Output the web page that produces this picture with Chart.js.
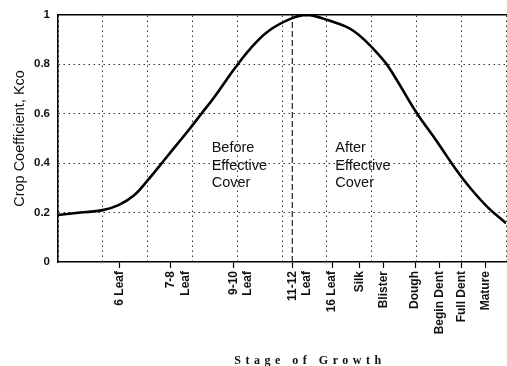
<!DOCTYPE html>
<html>
<head>
<meta charset="utf-8">
<script src="https://cdn.jsdelivr.net/npm/chart.js@4.4.1/dist/chart.umd.min.js"></script>
<style>
  html, body { margin: 0; padding: 0; background: #fff; }
  #wrap { width: 507px; height: 366px; }
</style>
</head>
<body>
<div id="wrap"><canvas id="kcoChart"></canvas></div>
<script>
// curve, x in grid units (0..10)
const curveX = [0, 0.5, 1.0, 1.35, 1.7, 2.0, 2.45, 2.9, 3.2, 3.5, 3.95, 4.3, 4.7, 5.2, 5.55, 6.0, 6.6, 7.25, 7.5, 8.0, 8.45, 8.9, 9.2, 9.6, 10];
const curveY = [0.19, 0.2, 0.21, 0.23, 0.27, 0.33, 0.43, 0.53, 0.6, 0.67, 0.785, 0.865, 0.935, 0.985, 1.0, 0.98, 0.935, 0.82, 0.755, 0.605, 0.49, 0.37, 0.3, 0.22, 0.157];

const stagePos = [1.38, 2.52, 3.92, 5.23, 6.12, 6.73, 7.26, 7.97, 8.51, 9.0, 9.55];
const stageLabels = [
  '6 Leaf', ['7-8', 'Leaf'], ['9-10', 'Leaf'], ['11-12', 'Leaf'], '16 Leaf',
  'Silk', 'Blister', 'Dough', 'Begin Dent', 'Full Dent', 'Mature'
];

const yTicks = [0, 0.2, 0.4, 0.6, 0.8, 1];
const dividerX = 5.23;

const beforeText = ['Before', 'Effective', 'Cover'];
const afterText = ['After', 'Effective', 'Cover'];
const noteLineY = [0.46, 0.39, 0.32];

const FONT = "'Liberation Sans', Arial, Helvetica, sans-serif";

// text notes + spaced axis title
const notesPlugin = {
  id: 'notes',
  afterDatasetsDraw(chart) {
    const ctx = chart.ctx;
    const xs = chart.scales.x;
    const ys = chart.scales.y;
    ctx.save();
    ctx.fillStyle = '#111';
    ctx.font = '14.5px ' + FONT;
    ctx.textAlign = 'left';
    ctx.textBaseline = 'middle';
    beforeText.forEach((t, i) => ctx.fillText(t, xs.getPixelForValue(3.43), ys.getPixelForValue(noteLineY[i])));
    afterText.forEach((t, i) => ctx.fillText(t, xs.getPixelForValue(6.19), ys.getPixelForValue(noteLineY[i])));
    ctx.restore();
  },
  afterDraw(chart) {
    const ctx = chart.ctx;
    ctx.save();
    ctx.fillStyle = '#111';
    ctx.font = "bold 12px 'Liberation Serif', 'Times New Roman', serif";
    ctx.letterSpacing = '4.5px';
    ctx.textAlign = 'center';
    ctx.textBaseline = 'alphabetic';
    ctx.fillText('Stage of Growth', 310, 364);
    ctx.restore();
  }
};

const dotted = [1.5, 3.5];

new Chart(document.getElementById('kcoChart'), {
  type: 'scatter',
  data: {
    datasets: [
      {
        data: curveX.map((x, i) => ({ x: x, y: curveY[i] })),
        showLine: true,
        borderColor: '#000',
        borderWidth: 2.6,
        pointRadius: 0,
        tension: 0.4,
        xAxisID: 'x',
        yAxisID: 'y'
      },
      {
        data: [{ x: dividerX, y: 0 }, { x: dividerX, y: 1 }],
        showLine: true,
        borderColor: '#222',
        borderWidth: 1.2,
        borderDash: [6, 3],
        pointRadius: 0,
        xAxisID: 'x',
        yAxisID: 'y'
      }
    ]
  },
  options: {
    responsive: true,
    maintainAspectRatio: false,
    animation: false,
    layout: { padding: { top: 14, right: 1, bottom: 0, left: 0 } },
    plugins: {
      legend: { display: false },
      tooltip: { enabled: false }
    },
    scales: {
      x: {
        type: 'linear',
        position: 'top',
        min: 0,
        max: 10,
        ticks: { stepSize: 1, display: false },
        grid: { color: '#333', lineWidth: 1, drawTicks: false },
        border: { display: true, color: '#000', width: 1.5, dash: dotted },
        afterFit: (s) => { s.height = 0; }
      },
      x2: {
        type: 'linear',
        position: 'bottom',
        min: 0,
        max: 10,
        afterBuildTicks: (s) => { s.ticks = stagePos.map(v => ({ value: v })); },
        afterFit: (s) => { s.height = 104; },
        ticks: {
          autoSkip: false,
          minRotation: 90,
          maxRotation: 90,
          padding: 3,
          color: '#111',
          font: { family: FONT, size: 12, weight: 'bold' },
          callback: (v, i) => stageLabels[i]
        },
        grid: { drawOnChartArea: false, tickLength: 6, tickColor: '#000', tickWidth: 1.2 },
        border: { color: '#000', width: 1.5 }
      },
      y: {
        min: 0,
        max: 1,
        afterBuildTicks: (s) => { s.ticks = yTicks.map(v => ({ value: v })); },
        afterFit: (s) => { s.width = 58; },
        ticks: {
          padding: 8,
          color: '#111',
          font: { family: FONT, size: 11.5, weight: 'bold' },
          callback: (v) => (v === 0 || v === 1) ? String(v) : v.toFixed(1)
        },
        grid: {
          drawTicks: false,
          color: (c) => (c.tick && (c.tick.value === 0 || c.tick.value === 1)) ? 'rgba(0,0,0,0)' : '#333'
        },
        border: { color: '#000', width: 1.5, dash: dotted },
        title: {
          display: true,
          text: 'Crop Coefficient, Kco',
          color: '#111',
          font: { family: FONT, size: 14.5 },
          padding: { top: 11, bottom: 0 }
        }
      }
    }
  },
  plugins: [notesPlugin]
});
</script>
</body>
</html>
